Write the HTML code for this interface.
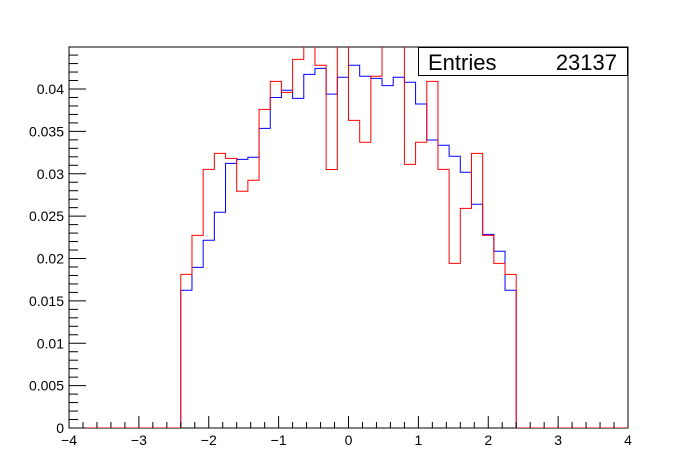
<!DOCTYPE html>
<html><head><meta charset="utf-8"><style>
html,body{margin:0;padding:0;background:#fff;}
svg{display:block;font-family:"Liberation Sans",sans-serif;}
</style></head><body>
<svg id="c" width="698" height="476" viewBox="0 0 698 476"></svg>
<script>
const binEdgesStart = -2.4;
const binWidth = 0.16;
const blueValues = [0.01625,0.01896,0.02215,0.02545,0.03123,0.0317,0.03194,0.03536,0.0390,0.03985,0.0389,0.04173,0.04244,0.0394,0.04138,0.0428,0.0415,0.04126,0.0404,0.04138,0.0408,0.03823,0.03398,0.03336,0.03206,0.03017,0.0264,0.02285,0.02085,0.01625];
const redValues = [0.01813,0.02273,0.03052,0.03241,0.03182,0.02793,0.02923,0.0376,0.0409,0.0396,0.0435,0.047,0.0428,0.0305,0.047,0.0363,0.03371,0.0415,0.047,0.047,0.03111,0.03371,0.0409,0.03052,0.01943,0.02592,0.03241,0.02273,0.01943,0.01813];
const xTicks = [-4,-3,-2,-1,0,1,2,3,4];
const yTicks = [0,0.005,0.01,0.015,0.02,0.025,0.03,0.035,0.04];
const yTickLabels = ["0","0.005","0.01","0.015","0.02","0.025","0.03","0.035","0.04"];
const entries = "23137";

const NS="http://www.w3.org/2000/svg";
const svg=document.getElementById('c');
const L=69,R=628,T=47,B=428;
const xmin=-4,xmax=4,ymin=0,ymax=(B-T)/8475;
const X=v=>L+(v-xmin)/(xmax-xmin)*(R-L);
const Y=v=>B-(v-ymin)/(ymax-ymin)*(B-T);
function mk(tag,attrs){const e=document.createElementNS(NS,tag);for(const k in attrs)e.setAttribute(k,attrs[k]);svg.appendChild(e);return e;}

const frame=mk('rect',{x:L,y:T,width:R-L,height:B-T,fill:'none',stroke:'#000','stroke-width':1});



// clip
const defs=mk('defs',{});
const cp=document.createElementNS(NS,'clipPath');cp.setAttribute('id','clip');
const cr=document.createElementNS(NS,'rect');cr.setAttribute('x',L);cr.setAttribute('y',T);cr.setAttribute('width',R-L);cr.setAttribute('height',B-T);
cp.appendChild(cr);defs.appendChild(cp);

function histPath(vals){
  let d='M'+X(xmin)+','+Y(0)+' L'+X(binEdgesStart)+','+Y(0);
  vals.forEach((v,i)=>{
    const x0=X(binEdgesStart+i*binWidth),x1=X(binEdgesStart+(i+1)*binWidth);
    d+=' L'+x0+','+Y(v)+' L'+x1+','+Y(v);
  });
  const xe=binEdgesStart+vals.length*binWidth;
  d+=' L'+X(xe)+','+Y(0)+' L'+X(xmax)+','+Y(0);
  return d;
}
const pb=mk('path',{d:histPath(blueValues),fill:'none',stroke:'#0000ff','stroke-width':1,'clip-path':'url(#clip)'});


const pr=mk('path',{d:histPath(redValues),fill:'none',stroke:'#ff0000','stroke-width':1,'clip-path':'url(#clip)'});



// x axis ticks
for(let v=xmin;v<=xmax+1e-9;v+=0.2){
  const major=Math.abs(v-Math.round(v))<1e-6;
  const t=mk('line',{x1:X(v),x2:X(v),y1:B,y2:B-(major?12:6),stroke:'#000','stroke-width':1});
  
  
}
xTicks.forEach(v=>{
  const t=mk('text',{x:X(v),y:445,'text-anchor':'middle','font-size':14,fill:'#000'});
  t.textContent=(v<0?'\u2212'+(-v):String(v));
  
  
});
// y axis ticks
for(let v=0;v<=ymax+1e-9;v+=0.001){
  const major=Math.abs(v/0.005-Math.round(v/0.005))<1e-6;
  const t=mk('line',{x1:L,x2:L+(major?17:9),y1:Y(v),y2:Y(v),stroke:'#000','stroke-width':1});
  
  
}
yTicks.forEach((v,i)=>{
  const t=mk('text',{x:64,y:Y(v)+5,'text-anchor':'end','font-size':14,fill:'#000'});
  t.textContent=yTickLabels[i];
  
  
});
// stats box
const sb=mk('rect',{x:418.5,y:47.5,width:209,height:28,fill:'#fff',stroke:'#000','stroke-width':1});


const e1=mk('text',{x:428,y:70,'font-size':22,fill:'#000'});e1.textContent='Entries';


const e2=mk('text',{x:617,y:70,'font-size':22,'text-anchor':'end',fill:'#000'});e2.textContent=entries;


</script>
</body></html>
